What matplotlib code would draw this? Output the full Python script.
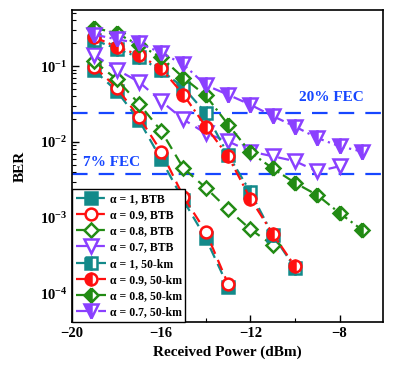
import matplotlib
matplotlib.use("Agg")
import matplotlib.pyplot as plt
from matplotlib.ticker import FixedLocator, LogLocator, NullFormatter

plt.rcParams['font.family'] = ['Liberation Serif', 'DejaVu Serif']
plt.rcParams['font.weight'] = 'bold'
plt.rcParams['mathtext.fontset'] = 'custom'
plt.rcParams['mathtext.rm'] = 'Liberation Serif:bold'
plt.rcParams['mathtext.it'] = 'Liberation Serif:bold:italic'
plt.rcParams['mathtext.bf'] = 'Liberation Serif:bold'

# ---- data ----
power_a1_btb = [-19, -18, -17, -16, -15, -14, -13]
ber_a1_btb = [0.088, 0.047, 0.0195, 0.0059, 0.0017, 5.4e-4, 1.25e-4]

power_a09_btb = [-19, -18, -17, -16, -15, -14, -13]
ber_a09_btb = [0.098, 0.052, 0.0214, 0.0075, 0.0019, 6.6e-4, 1.35e-4]

power_a08_btb = [-19, -18, -17, -16, -15, -14, -13, -12, -11]
ber_a08_btb = [0.115, 0.067, 0.032, 0.014, 0.0045, 0.0025, 0.0013, 7.1e-4, 4.4e-4]

power_a07_btb = [-19, -18, -17, -16, -15, -14, -13, -12, -11, -10, -9, -8]
ber_a07_btb = [0.14, 0.09, 0.062, 0.0345, 0.0198, 0.013, 0.0102, 0.0075, 0.0065, 0.0056, 0.0041, 0.0048]

power_a1_50 = [-19, -18, -17, -16, -15, -14, -13, -12, -11, -10]
ber_a1_50 = [0.22, 0.17, 0.13, 0.088, 0.052, 0.024, 0.0068, 0.0022, 6.0e-4, 2.2e-4]

power_a09_50 = [-19, -18, -17, -16, -15, -14, -13, -12, -11, -10]
ber_a09_50 = [0.24, 0.18, 0.14, 0.093, 0.042, 0.016, 0.0065, 0.0018, 6.2e-4, 2.3e-4]

power_a08_50 = [-19, -18, -17, -16, -15, -14, -13, -12, -11, -10, -9, -8, -7]
ber_a08_50 = [0.32, 0.27, 0.19, 0.13, 0.07, 0.041, 0.017, 0.0073, 0.0045, 0.0029, 0.002, 0.00116, 7.0e-4]

power_a07_50 = [-19, -18, -17, -16, -15, -14, -13, -12, -11, -10, -9, -8, -7]
ber_a07_50 = [0.26, 0.225, 0.2, 0.15, 0.105, 0.056, 0.042, 0.031, 0.022, 0.016, 0.0113, 0.0088, 0.0075]

labels = ['α = 1, BTB', 'α = 0.9, BTB', 'α = 0.8, BTB', 'α = 0.7, BTB',
          'α = 1, 50-km', 'α = 0.9, 50-km', 'α = 0.8, 50-km', 'α = 0.7, 50-km']

fec_20 = 0.024
fec_7 = 0.0038
xticks = [-20, -16, -12, -8]

# ---- style ----
teal = '#138a8a'
red = '#ff1010'
green = '#228b14'
purple = '#8a40ff'
fec_blue = '#1646ff'

fig = plt.figure(figsize=(4.15, 3.74), dpi=100)
ax = fig.add_axes([0.1735, 0.139, 0.7495, 0.834])

series = [
    (power_a1_btb, ber_a1_btb, teal, 's', 'full', teal, (0, (5, 3))),
    (power_a09_btb, ber_a09_btb, red, 'o', 'none', 'none', (0, (5, 3))),
    (power_a08_btb, ber_a08_btb, green, 'D', 'none', 'none', (0, (5, 3))),
    (power_a07_btb, ber_a07_btb, purple, 'v', 'none', 'none', (0, (5, 3))),
    (power_a1_50, ber_a1_50, teal, 's', 'left', teal, (0, (5, 2, 1, 2))),
    (power_a09_50, ber_a09_50, red, 'o', 'left', red, (0, (5, 2, 1, 2))),
    (power_a08_50, ber_a08_50, green, 'D', 'left', green, (0, (5, 2, 1, 2))),
    (power_a07_50, ber_a07_50, purple, 'v', 'left', purple, (0, (5, 2, 1, 2))),
]
sizes = {'s': 8.5, 'o': 8.5, 'D': 7.5, 'v': 9.5}

for (x, y, c, m, fs, fc, ls), lab in zip(series, labels):
    kw = dict(color=c, linestyle=ls, linewidth=1.6, marker=m, markersize=sizes[m],
              markeredgecolor=c, markeredgewidth=1.8, label=lab)
    if fs == 'none':
        kw.update(markerfacecolor='white', fillstyle='full')
    elif fs == 'left':
        kw.update(fillstyle='left', markerfacecolor=fc, markerfacecoloralt='white')
    else:
        kw.update(markerfacecolor=fc)
    ax.plot(x, y, **kw)

ax.axhline(fec_20, color=fec_blue, linestyle=(0, (7, 5)), linewidth=1.6, zorder=1)
ax.axhline(fec_7, color=fec_blue, linestyle=(0, (7, 5)), linewidth=1.6, zorder=1)
ax.text(-9.8, 0.039, '20% FEC', color=fec_blue, fontsize=11, fontweight='bold', va='center', ha='left')
ax.text(-19.5, 0.0054, '7% FEC', color=fec_blue, fontsize=11, fontweight='bold', va='center', ha='left')

ax.set_yscale('log')
ax.set_xlim(-20, -6.05)
ax.set_ylim(10 ** -4.37, 10 ** -0.263)
ax.xaxis.set_major_locator(FixedLocator(xticks))
ax.xaxis.set_minor_locator(FixedLocator([-18, -14, -10, -6]))
ax.yaxis.set_minor_locator(LogLocator(base=10, subs=range(2, 10)))
ax.yaxis.set_minor_formatter(NullFormatter())
ax.tick_params(which='both', direction='in', labelsize=10.5)
ax.tick_params(which='major', length=5, width=1.0)
ax.tick_params(which='minor', length=3, width=0.8)
for lab in ax.get_xticklabels() + ax.get_yticklabels():
    lab.set_fontweight('bold')
for sp in ax.spines.values():
    sp.set_linewidth(1.2)

ax.set_xlabel('Received Power (dBm)', fontsize=11, fontweight='bold', labelpad=4)
ax.set_ylabel('BER', fontsize=11, fontweight='bold', labelpad=9)

leg = ax.legend(loc='lower left', bbox_to_anchor=(0, 0), borderaxespad=0, fancybox=False,
                edgecolor='black', framealpha=1, fontsize=8.5, handlelength=2.6,
                handletextpad=0.3, labelspacing=0.36, borderpad=0.3)
leg.get_frame().set_linewidth(1.0)
for t in leg.get_texts():
    t.set_fontweight('bold')

fig.savefig('out.png', dpi=100)
